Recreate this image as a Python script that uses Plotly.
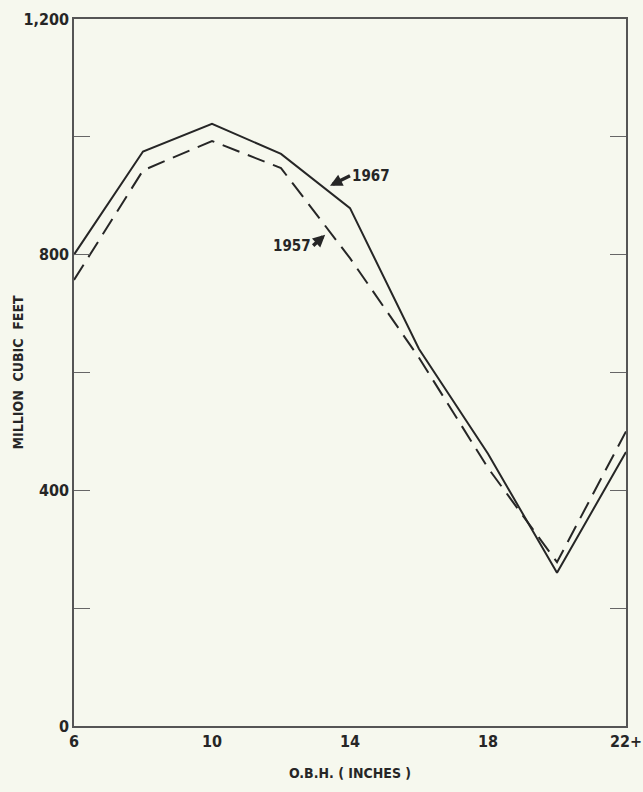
import plotly.graph_objects as go

dbh = [6, 8, 10, 12, 14, 16, 18, 20, 22]
vol_1967 = [800, 975, 1022, 971, 879, 640, 462, 260, 465]
vol_1957 = [757, 943, 993, 947, 794, 625, 438, 278, 500]

x_tickvals = [6, 10, 14, 18, 22]
x_ticktext = ["6", "10", "14", "18", "22+"]
y_tickvals = [0, 200, 400, 600, 800, 1000, 1200]
y_ticktext = ["0", "", "400", "", "800", "", "1,200"]

FONT = "DejaVu Sans Condensed, Liberation Sans Narrow, sans-serif"
INK = "#262626"
BG = "#f6f8ee"

fig = go.Figure()
fig.add_trace(go.Scatter(x=dbh, y=vol_1967, mode="lines", name="1967",
                         line=dict(color=INK, width=2)))
fig.add_trace(go.Scatter(x=dbh, y=vol_1957, mode="lines", name="1957",
                         line=dict(color=INK, width=2, dash="18px,9px")))

fig.add_annotation(x=13.42, y=917, xref="x", yref="y", text="<b>1967</b>",
                   showarrow=True, ax=20, ay=-10, axref="pixel", ayref="pixel",
                   arrowhead=2, arrowsize=0.7, arrowwidth=3.5, arrowcolor=INK,
                   standoff=0, xanchor="left", yanchor="middle",
                   font=dict(family=FONT, size=15, color=INK))
fig.add_annotation(x=13.28, y=834, xref="x", yref="y", text="<b>1957</b>",
                   showarrow=True, ax=-12, ay=11, axref="pixel", ayref="pixel",
                   arrowhead=2, arrowsize=0.7, arrowwidth=3.5, arrowcolor=INK,
                   standoff=0, xanchor="right", yanchor="middle",
                   font=dict(family=FONT, size=15, color=INK))

# y-axis title placed near the left edge like the original
fig.add_annotation(x=-57 / 552, y=0.5, xref="paper", yref="paper",
                   text="<b>MILLION  CUBIC  FEET</b>", textangle=-90,
                   showarrow=False, xanchor="center", yanchor="middle",
                   font=dict(family=FONT, size=14, color=INK))

fig.update_layout(
    width=643, height=792,
    margin=dict(l=74, r=17, t=19, b=66),
    paper_bgcolor=BG, plot_bgcolor=BG,
    showlegend=False,
    font=dict(family=FONT, size=16, color=INK),
    xaxis=dict(range=[6, 22], tickvals=x_tickvals, ticktext=x_ticktext,
               showgrid=False, zeroline=False, showline=True, mirror=True,
               linecolor="#555", linewidth=1.5, ticks="", automargin=False,
               ticklabeloverflow="allow",
               title=dict(text="<b>O.B.H. ( INCHES )</b>", standoff=18,
                          font=dict(family=FONT, size=14, color=INK)),
               tickfont=dict(family=FONT, size=16, color=INK, weight="bold")),
    yaxis=dict(range=[0, 1200], tickvals=y_tickvals, ticktext=y_ticktext,
               showgrid=False, zeroline=False, showline=True, mirror="ticks",
               linecolor="#555", linewidth=1.5, ticks="inside", ticklen=16,
               tickcolor="#666", tickwidth=1.2, automargin=False,
               ticklabeloverflow="allow",
               tickfont=dict(family=FONT, size=16, color=INK, weight="bold")),
)

fig.write_html("out.html")
